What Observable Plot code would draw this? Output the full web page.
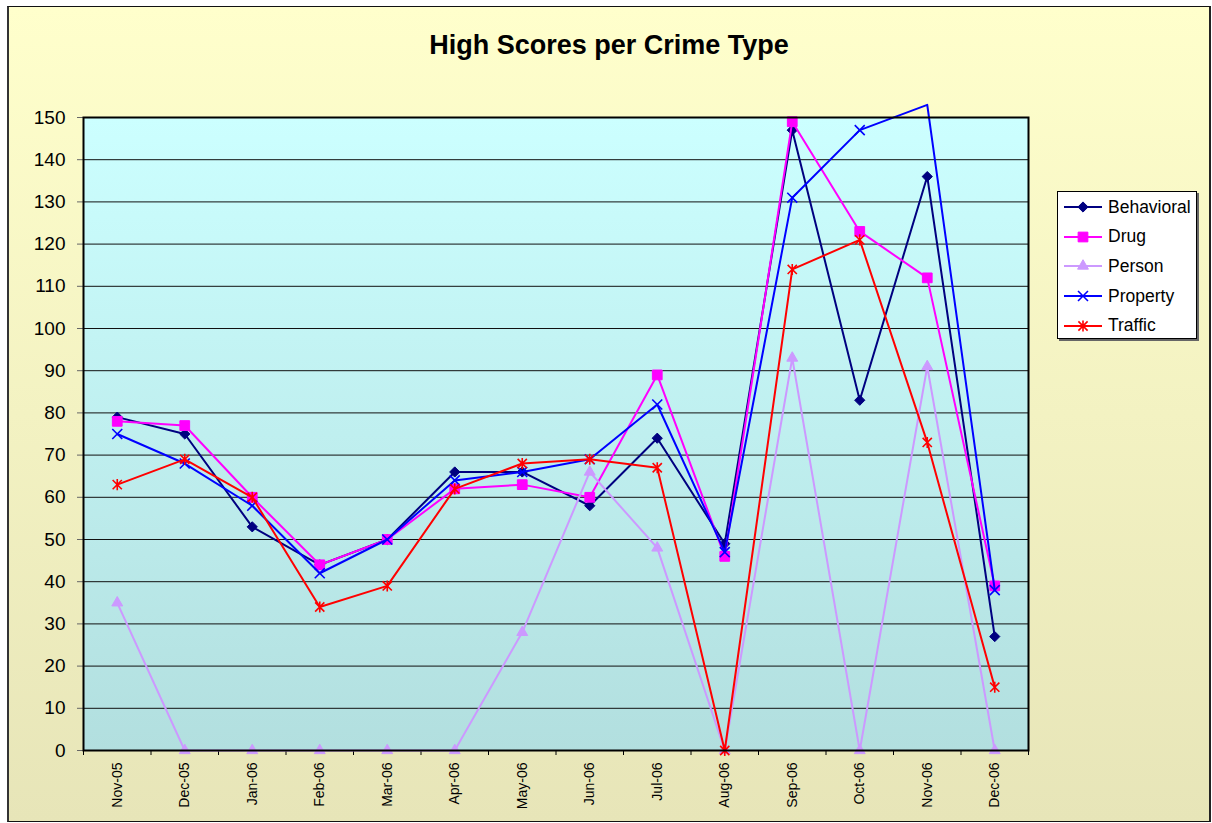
<!DOCTYPE html>
<html>
<head>
<meta charset="utf-8">
<script src="https://cdn.jsdelivr.net/npm/d3@7"></script>
<script src="https://cdn.jsdelivr.net/npm/@observablehq/plot@0.6"></script>
<style>
  html, body { margin: 0; padding: 0; background: #fff; }
  #wrap { position: relative; width: 1212px; height: 823px; overflow: hidden; font-family: Arial, "Liberation Sans", sans-serif; }
  #bg { position: absolute; left: 7px; top: 6px; width: 1204px; height: 816px; box-sizing: border-box;
        border: 1px solid #111; border-left: 2px solid #333; border-right: 2px solid #222;
        background: linear-gradient(to bottom, #FFFFCC 0%, #E7E5B8 100%); }
  #plot { position: absolute; left: 0; top: 0; }
  #title { position: absolute; left: 0; width: 1218px; top: 32px; text-align: center; font-weight: bold;
           font-size: 27px; line-height: 27px; color: #000; }
  #legend { position: absolute; left: 1057px; top: 191px; width: 140px; height: 148px; box-sizing: border-box;
            background: #fff; border: 1px solid #000; box-shadow: 2px 2px 0 #666; }
  .row { position: absolute; left: 6px; height: 22px; display: flex; align-items: center; font-size: 17.5px; color: #000; }
  .row svg { display: block; margin-right: 4px; }
</style>
</head>
<body>
<svg width="0" height="0" style="position:absolute">
  <defs>
    <linearGradient id="pg" x1="0" y1="0" x2="0" y2="1">
      <stop offset="0" stop-color="#CCFFFF"/>
      <stop offset="1" stop-color="#B2DFDF"/>
    </linearGradient>
  </defs>
</svg>
<div id="wrap">
  <div id="bg"></div>
  <div id="plot"></div>
  <div id="title">High Scores per Crime Type</div>
  <div id="legend"></div>
</div>
<script>
// ---- data ----
const months = ["Nov-05","Dec-05","Jan-06","Feb-06","Mar-06","Apr-06","May-06","Jun-06","Jul-06","Aug-06","Sep-06","Oct-06","Nov-06","Dec-06"];
const seriesNames = ["Behavioral","Drug","Person","Property","Traffic"];
const behavioral = [79,75,53,44,50,66,66,58,74,49,147,83,136,27];
const drug       = [78,77,60,44,50,62,63,60,89,46,149,123,112,39];
const person     = [35,0,0,0,0,0,28,66,48,0,93,0,91,0];
const property   = [75,68,58,42,50,64,66,69,82,47,131,147,153,38];
const traffic    = [63,69,60,34,39,62,68,69,67,0,114,121,73,15];
const yTicks = [0,10,20,30,40,50,60,70,80,90,100,110,120,130,140,150];

// ---- styles ----
const colors = ["#000080","#FF00FF","#CC99FF","#0000FF","#FF0000"];
const starSymbol = {
  draw(ctx, size) {
    const r = Math.sqrt(size) * 0.5;
    ctx.moveTo(-r, -r); ctx.lineTo(r, r);
    ctx.moveTo(-r, r); ctx.lineTo(r, -r);
    ctx.moveTo(0, -r * 1.2); ctx.lineTo(0, r * 1.2);
  }
};
const markers = [
  {symbol: "diamond2", r: 4.6, filled: true},
  {symbol: "square", r: 5.5, filled: true},
  {symbol: "triangle2", r: 5.2, filled: true},
  {symbol: "times", r: 4.6, filled: false},
  {symbol: starSymbol, r: 5.2, filled: false}
];
const d3symbols = [d3.symbolDiamond2, d3.symbolSquare, d3.symbolTriangle2, d3.symbolTimes, starSymbol];

const values = [behavioral, drug, person, property, traffic];
const series = seriesNames.map((name, k) => ({
  name, color: colors[k], marker: markers[k],
  rows: values[k].map((v, i) => ({i, v, month: months[i]}))
}));

const idx = months.map((_, i) => i);
const edges = months.map((_, i) => i - 0.5).concat([months.length - 0.5]);
const yMax = yTicks[yTicks.length - 1];

const marks = [
  Plot.frame({fill: "url(#pg)"}),
  Plot.ruleY(yTicks, {y: d => d, stroke: "#111", strokeWidth: 1}),
  Plot.axisY(yTicks, {tickSize: 6, tickPadding: 12, fontSize: 19, stroke: "#666", fill: "#000", label: null}),
  Plot.axisX(idx, {tickFormat: i => months[i], tickSize: 0, tickPadding: 12, tickRotate: -90, fontSize: 14, fill: "#000", label: null}),
  Plot.axisX(edges, {tickSize: 5, stroke: "#000", fill: "none", label: null})
];
for (const s of series) {
  marks.push(Plot.line(s.rows, {x: "i", y: "v", stroke: s.color, strokeWidth: 2}));
  marks.push(Plot.dot(s.rows.filter(d => d.v <= yMax), {
    x: "i", y: "v", symbol: () => s.marker.symbol, r: s.marker.r,
    fill: s.marker.filled ? s.color : "none", stroke: s.color, strokeWidth: s.marker.filled ? 1 : 1.6
  }));
}
marks.push(Plot.frame({stroke: "#000", strokeWidth: 2}));

const chart = Plot.plot({
  width: 1212, height: 823,
  marginLeft: 83, marginRight: 184, marginTop: 117, marginBottom: 73,
  x: {domain: [-0.5, months.length - 0.5], axis: null},
  y: {domain: [0, yMax], axis: null},
  symbol: {type: "identity"},
  style: {background: "transparent", fontFamily: "Arial, 'Liberation Sans', sans-serif", overflow: "visible", color: "#000"},
  marks
});
document.getElementById("plot").appendChild(chart);

// ---- legend ----
const legend = document.getElementById("legend");
series.forEach((s, k) => {
  const row = document.createElement("div");
  row.className = "row";
  row.style.top = (4 + k * 29.7) + "px";
  const ns = "http://www.w3.org/2000/svg";
  const svg = document.createElementNS(ns, "svg");
  svg.setAttribute("width", 40); svg.setAttribute("height", 22);
  const line = document.createElementNS(ns, "line");
  line.setAttribute("x1", 0); line.setAttribute("x2", 38);
  line.setAttribute("y1", 11); line.setAttribute("y2", 11);
  line.setAttribute("stroke", s.color); line.setAttribute("stroke-width", 2);
  svg.appendChild(line);
  const p = document.createElementNS(ns, "path");
  const r = s.marker.r;
  p.setAttribute("d", d3.symbol(d3symbols[k], Math.PI * r * r)());
  p.setAttribute("transform", "translate(19,11)");
  p.setAttribute("fill", s.marker.filled ? s.color : "none");
  p.setAttribute("stroke", s.color);
  p.setAttribute("stroke-width", s.marker.filled ? 1 : 1.6);
  svg.appendChild(p);
  row.appendChild(svg);
  const t = document.createElement("span");
  t.textContent = s.name;
  row.appendChild(t);
  legend.appendChild(row);
});
</script>
</body>
</html>
